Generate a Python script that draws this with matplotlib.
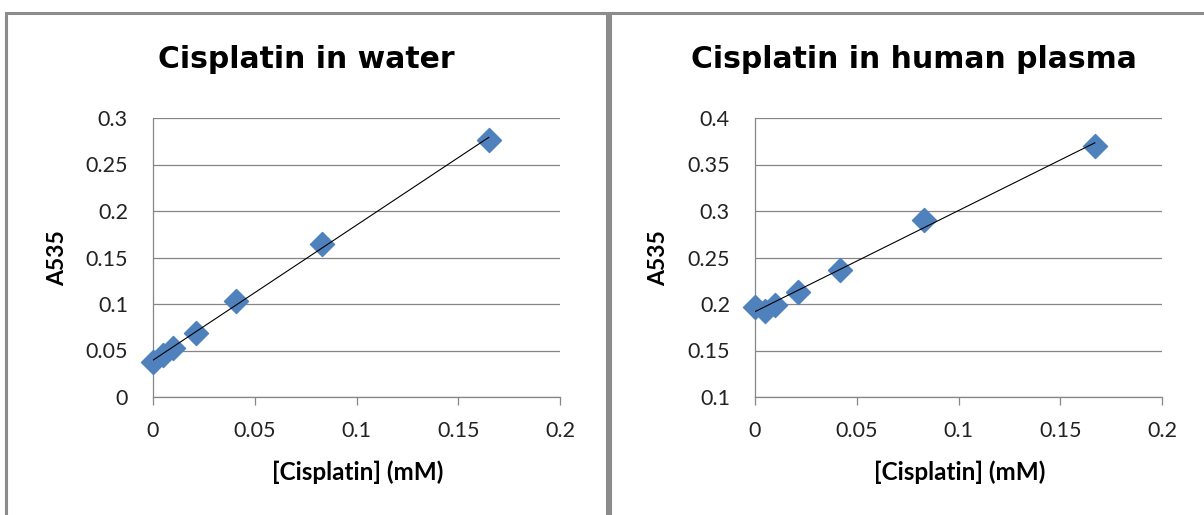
import numpy as np
import matplotlib
matplotlib.use("Agg")
import matplotlib.pyplot as plt
from matplotlib.patches import Rectangle

# Data
conc_water = [0.0, 0.005, 0.010, 0.021, 0.041, 0.083, 0.165]
a535_water = [0.038, 0.045, 0.053, 0.069, 0.103, 0.165, 0.276]
conc_plasma = [0.0, 0.005, 0.010, 0.021, 0.042, 0.083, 0.167]
a535_plasma = [0.197, 0.193, 0.199, 0.213, 0.237, 0.290, 0.370]

titles = ["Cisplatin in water", "Cisplatin in human plasma"]
xlabel = "[Cisplatin] (mM)"
ylabel = "A535"
xticks = [0, 0.05, 0.1, 0.15, 0.2]
xticklabels = ["0", "0.05", "0.1", "0.15", "0.2"]
yticks_water = [0, 0.05, 0.1, 0.15, 0.2, 0.25, 0.3]
yticklabels_water = ["0", "0.05", "0.1", "0.15", "0.2", "0.25", "0.3"]
yticks_plasma = [0.1, 0.15, 0.2, 0.25, 0.3, 0.35, 0.4]
yticklabels_plasma = ["0.1", "0.15", "0.2", "0.25", "0.3", "0.35", "0.4"]

FONT = ["Lato", "DejaVu Sans"]
TITLE_FONT = ["DejaVu Sans"]
plt.rcParams['font.family'] = FONT

W, H = 1204, 515
fig = plt.figure(figsize=(W / 100, H / 100), dpi=100)

def fx(px):
    return px / W

def fy(py):
    return 1 - py / H

border = "#8c8c8c"
# Panel borders
fig.patches.append(Rectangle((fx(6), fy(530)), fx(607 - 6), fy(13) - fy(530),
                             transform=fig.transFigure, fill=False,
                             edgecolor=border, lw=2.2))
fig.patches.append(Rectangle((fx(609.5), fy(530)), fx(1230 - 609.5), fy(13) - fy(530),
                             transform=fig.transFigure, fill=False,
                             edgecolor=border, lw=2.2))

panels = [
    dict(x=conc_water, y=a535_water, yt=yticks_water, ytl=yticklabels_water,
         ax_left=153, title_cx=306, ylab_x=58),
    dict(x=conc_plasma, y=a535_plasma, yt=yticks_plasma, ytl=yticklabels_plasma,
         ax_left=755, title_cx=914, ylab_x=659),
]

grid_c = "#868686"
for i, p in enumerate(panels):
    ax = fig.add_axes([fx(p["ax_left"]), fy(397), fx(407), fy(118) - fy(397)])
    ax.set_xlim(0, 0.2)
    ax.set_ylim(p["yt"][0], p["yt"][-1])
    ax.set_xticks(xticks)
    ax.set_xticklabels(xticklabels)
    ax.set_yticks(p["yt"])
    ax.set_yticklabels(p["ytl"])
    ax.yaxis.grid(True, color=grid_c, lw=0.9)
    ax.set_axisbelow(True)
    for s in ["top", "right"]:
        ax.spines[s].set_visible(False)
    for s in ["left", "bottom"]:
        ax.spines[s].set_color(grid_c)
        ax.spines[s].set_linewidth(0.9)
    ax.tick_params(axis="both", colors=grid_c, labelcolor="#222222",
                   labelsize=15.5, width=0.9, direction="out")
    ax.tick_params(axis="x", length=6, pad=11)
    ax.tick_params(axis="y", length=0, pad=18)
    ax.scatter(p["x"], p["y"], marker="D", s=150, color="#4F81BD",
               edgecolor="#4F81BD", zorder=3, clip_on=False)
    coef = np.polyfit(p["x"], p["y"], 1)
    xs = np.array([p["x"][0], p["x"][-1]])
    ax.plot(xs, np.polyval(coef, xs), color="black", lw=0.8, zorder=4)
    fig.text(fx(p["title_cx"]), fy(60), titles[i], ha="center", va="center",
             fontsize=21.5, fontweight="bold", color="black", family=TITLE_FONT)
    fig.text(fx(p["ylab_x"]), fy(258), ylabel, ha="center", va="center",
             rotation=90, fontsize=16.5, fontweight="bold", color="black")
    fig.text(fx(p["ax_left"] + 205), fy(472), xlabel, ha="center", va="center",
             fontsize=17.5, fontweight="bold", color="black")

fig.savefig("out.png", dpi=100, facecolor="white")
